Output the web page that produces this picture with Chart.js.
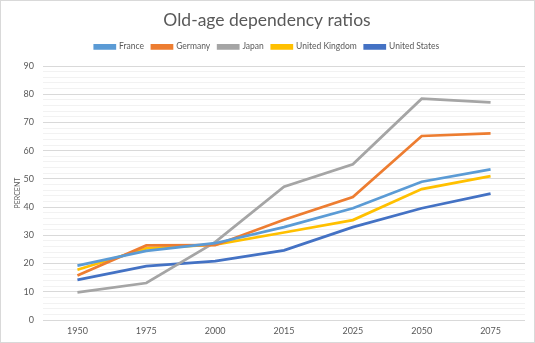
<!DOCTYPE html>
<html lang="en">
<head>
  <meta charset="UTF-8" />
  <title>Old-age dependency ratios</title>
  <script src="https://cdn.jsdelivr.net/npm/chart.js"></script>
  <style>
    body {
      margin: 0;
      background: #fff;
    }
    .frame {
      width: 533px;
      height: 341px;
      border: 1px solid #d9d9d9;
    }
  </style>
</head>
<body>
  <div class="frame">
    <canvas id="chart" width="533" height="341"></canvas>
  </div>

  <script>
    // Data
    const years = ['1950', '1975', '2000', '2015', '2025', '2050', '2075'];
    const france = [19.3, 24.5, 27.2, 32.9, 39.6, 49.0, 53.4];
    const germany = [15.8, 26.4, 26.5, 35.5, 43.6, 65.2, 66.1];
    const japan = [9.8, 13.1, 27.6, 47.2, 55.2, 78.4, 77.1];
    const unitedKingdom = [17.8, 25.4, 26.7, 31.0, 35.4, 46.4, 51.0];
    const unitedStates = [14.2, 19.1, 20.9, 24.7, 32.9, 39.6, 44.8];

    const textColor = '#595959';
    Chart.defaults.font.family = 'Lato, sans-serif';

    function series(label, data, color) {
      return {
        label: label,
        data: data,
        borderColor: color,
        backgroundColor: color,
        borderWidth: 2.75,
        pointRadius: 0,
        tension: 0,
        fill: false
      };
    }

    // leave a little room under the legend, like the original
    const legendGap = {
      id: 'legendGap',
      afterInit(chart) {
        const legend = chart.legend;
        const fit = legend.fit;
        legend.fit = function () {
          fit.call(this);
          this.height += 5;
        };
      }
    };

    new Chart(document.getElementById('chart'), {
      type: 'line',
      data: {
        labels: years,
        datasets: [
          series('France', france, '#5B9BD5'),
          series('Germany', germany, '#ED7D31'),
          series('Japan', japan, '#A5A5A5'),
          series('United Kingdom', unitedKingdom, '#FFC000'),
          series('United States', unitedStates, '#4472C4')
        ]
      },
      plugins: [legendGap],
      options: {
        responsive: false,
        animation: false,
        layout: { padding: { left: 8, right: 9, top: 0, bottom: 5 } },
        scales: {
          x: {
            offset: true,
            afterFit: (scale) => { scale.height = 17; },
            grid: { display: false, drawTicks: false },
            border: { display: false },
            ticks: { color: textColor, font: { size: 9 }, maxRotation: 0, padding: 6 }
          },
          y: {
            min: 0,
            max: 90,
            afterFit: (scale) => { scale.width = 34; },
            border: { display: false },
            grid: {
              drawTicks: false,
              color: (ctx) => (ctx.tick && ctx.tick.value % 10 === 0) ? '#d9d9d9' : '#f2f2f2'
            },
            ticks: {
              stepSize: 2,
              autoSkip: false,
              color: textColor,
              font: { size: 9 },
              padding: 9,
              callback: (v) => v % 10 === 0 ? v : ''
            },
            title: {
              display: true,
              text: 'PERCENT',
              color: textColor,
              font: { size: 7 },
              padding: { top: 5, bottom: 0 }
            }
          }
        },
        plugins: {
          title: {
            display: true,
            text: 'Old-age dependency ratios',
            color: textColor,
            font: { size: 17.5, weight: 'normal' },
            padding: { top: 9, bottom: 3.5 }
          },
          legend: {
            labels: {
              color: textColor,
              font: { size: 8.5 },
              boxWidth: 20,
              boxHeight: 3,
              padding: 8
            }
          },
          tooltip: { enabled: false }
        }
      }
    });
  </script>
</body>
</html>
